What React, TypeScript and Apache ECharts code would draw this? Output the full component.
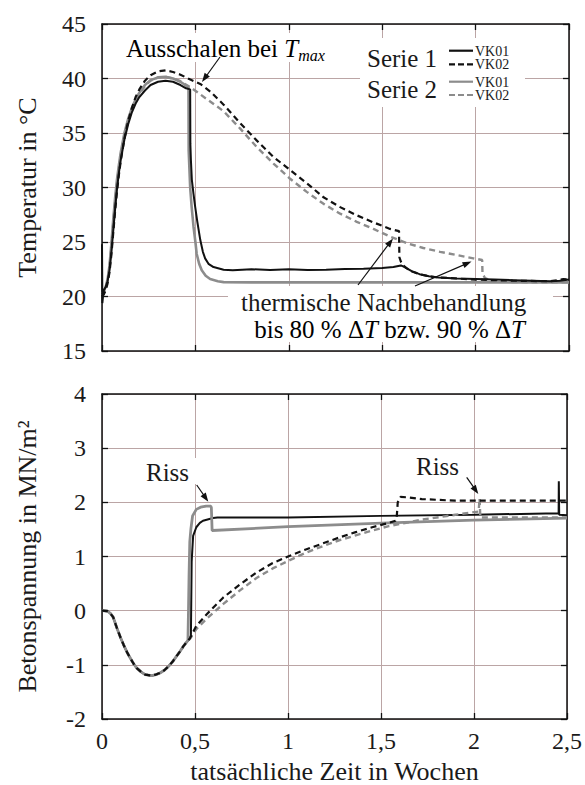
import React, { useEffect, useRef } from "react";
import * as echarts from "echarts";

// ---------- data ----------
const xTicks = [0, 0.5, 1, 1.5, 2, 2.5];
const tempTicks = [15, 20, 25, 30, 35, 40, 45];
const stressTicks = [-2, -1, 0, 1, 2, 3, 4];

// Temperature [weeks, °C]
const tempS1VK01 = [
  [0, 24.8], [0.002, 19.4], [0.008, 20.5], [0.02, 20.9], [0.03, 21.4], [0.04, 22.4], [0.05, 24.0],
  [0.06, 26.0], [0.07, 28.0], [0.08, 29.8], [0.09, 31.3], [0.1, 32.5], [0.12, 34.4], [0.14, 35.8],
  [0.16, 36.9], [0.18, 37.7], [0.2, 38.3], [0.23, 38.9], [0.26, 39.4], [0.3, 39.7], [0.34, 39.8],
  [0.38, 39.7], [0.42, 39.4], [0.45, 39.1], [0.472, 39.0], [0.473, 34.0], [0.476, 32.5], [0.481, 30.7],
  [0.49, 29.4], [0.499, 28.2], [0.51, 26.9], [0.526, 25.2], [0.54, 24.1], [0.552, 23.5], [0.57, 23.0],
  [0.597, 22.7], [0.651, 22.45], [0.7, 22.4], [0.8, 22.5], [0.9, 22.42], [1.0, 22.5], [1.1, 22.42],
  [1.2, 22.45], [1.3, 22.52], [1.4, 22.55], [1.5, 22.62], [1.56, 22.7], [1.6, 22.85], [1.62, 22.7],
  [1.66, 22.3], [1.7, 22.05], [1.75, 21.85], [1.8, 21.75], [1.9, 21.65], [2.0, 21.6], [2.1, 21.55],
  [2.2, 21.5], [2.3, 21.45], [2.4, 21.4], [2.45, 21.45], [2.5, 21.55],
];
const tempS1VK02 = [
  [0, 20.0], [0.01, 20.2], [0.02, 20.6], [0.03, 21.2], [0.04, 22.2], [0.05, 23.8], [0.06, 25.8],
  [0.07, 27.8], [0.08, 29.6], [0.09, 31.1], [0.1, 32.4], [0.12, 34.5], [0.14, 36.1], [0.16, 37.3],
  [0.18, 38.3], [0.2, 39.0], [0.23, 39.8], [0.26, 40.3], [0.3, 40.65], [0.34, 40.75], [0.38, 40.6],
  [0.42, 40.35], [0.473, 39.9], [0.526, 39.5], [0.58, 38.8], [0.651, 37.6], [0.74, 35.9], [0.829, 34.3],
  [0.918, 32.8], [1.007, 31.6], [1.096, 30.4], [1.186, 29.1], [1.275, 28.2], [1.364, 27.45], [1.453, 26.8],
  [1.542, 26.2], [1.59, 26.0], [1.592, 23.6], [1.6, 23.2], [1.612, 22.85], [1.63, 22.6], [1.66, 22.3],
  [1.7, 22.05], [1.75, 21.85], [1.8, 21.75], [1.9, 21.65], [2.0, 21.55], [2.2, 21.45], [2.4, 21.4],
  [2.44, 21.5], [2.47, 21.6], [2.5, 21.55],
];
const tempS2VK01 = [
  [0, 20.3], [0.01, 20.5], [0.02, 20.9], [0.03, 21.6], [0.04, 22.8], [0.05, 24.8], [0.06, 27.0],
  [0.07, 29.0], [0.08, 30.7], [0.09, 32.0], [0.1, 33.2], [0.12, 35.0], [0.14, 36.3], [0.16, 37.3],
  [0.18, 38.1], [0.2, 38.7], [0.23, 39.4], [0.26, 39.85], [0.3, 40.1], [0.34, 40.15], [0.38, 40.0],
  [0.42, 39.7], [0.45, 39.35], [0.463, 39.2], [0.464, 33.4], [0.472, 30.0], [0.48, 28.2], [0.49, 26.4],
  [0.5, 25.0], [0.507, 23.9], [0.52, 23.0], [0.534, 22.4], [0.555, 21.9], [0.579, 21.6], [0.62, 21.4],
  [0.651, 21.32], [0.8, 21.3], [1.0, 21.3], [1.5, 21.3], [2.0, 21.3], [2.5, 21.3],
];
const tempS2VK02 = [
  [0, 20.1], [0.01, 20.3], [0.02, 20.8], [0.03, 21.5], [0.04, 22.6], [0.05, 24.5], [0.06, 26.6],
  [0.07, 28.6], [0.08, 30.3], [0.09, 31.7], [0.1, 32.9], [0.12, 34.8], [0.14, 36.2], [0.16, 37.2],
  [0.18, 38.0], [0.2, 38.6], [0.23, 39.3], [0.26, 39.8], [0.3, 40.1], [0.34, 40.15], [0.38, 40.0],
  [0.42, 39.75], [0.473, 39.2], [0.562, 38.1], [0.651, 37.0], [0.74, 35.4], [0.829, 33.7], [0.918, 32.2],
  [1.007, 30.8], [1.096, 29.6], [1.186, 28.5], [1.275, 27.6], [1.364, 26.85], [1.453, 26.2], [1.542, 25.5],
  [1.631, 24.9], [1.72, 24.45], [1.81, 24.1], [1.899, 23.8], [1.988, 23.5], [2.035, 23.35], [2.037, 22.1],
  [2.05, 21.7], [2.08, 21.45], [2.15, 21.35], [2.3, 21.3], [2.5, 21.3],
];

// Stress [weeks, MN/m²]
const stressStart = [
  [0, 0], [0.03, -0.01], [0.045, -0.05], [0.06, -0.12], [0.08, -0.32], [0.1, -0.5], [0.116, -0.63],
  [0.135, -0.77], [0.151, -0.87], [0.17, -0.98], [0.187, -1.06], [0.21, -1.13], [0.232, -1.18],
  [0.267, -1.2], [0.29, -1.18], [0.312, -1.15], [0.335, -1.1], [0.357, -1.03], [0.38, -0.94],
  [0.401, -0.84], [0.42, -0.75], [0.437, -0.66], [0.455, -0.58],
];
const stressS1VK01 = [
  [0.473, -0.51], [0.478, -0.45], [0.48, 0.2], [0.482, 0.9], [0.486, 1.15], [0.49, 1.38], [0.507, 1.54],
  [0.526, 1.62], [0.543, 1.66], [0.597, 1.71], [0.62, 1.72], [1.0, 1.72], [1.5, 1.75], [2.0, 1.77],
  [2.455, 1.8], [2.456, 2.39], [2.458, 1.77], [2.5, 1.76],
];
const stressS1VK02 = [
  [0.473, -0.51], [0.507, -0.28], [0.562, -0.07], [0.651, 0.24], [0.74, 0.48], [0.829, 0.7], [0.918, 0.88],
  [1.007, 1.01], [1.096, 1.13], [1.186, 1.24], [1.275, 1.35], [1.364, 1.45], [1.453, 1.54], [1.542, 1.62],
  [1.578, 1.66], [1.585, 1.75], [1.59, 2.0], [1.605, 2.1], [1.65, 2.09], [1.72, 2.06], [1.9, 2.03],
  [2.5, 2.03],
];
const stressS2VK01 = [
  [0.462, -0.55], [0.465, 0.0], [0.468, 0.65], [0.472, 1.27], [0.478, 1.51], [0.487, 1.75], [0.507, 1.87],
  [0.53, 1.91], [0.56, 1.93], [0.585, 1.93], [0.588, 1.9], [0.592, 1.48], [1.0, 1.55], [1.54, 1.62],
  [2.0, 1.67], [2.5, 1.71],
];
const stressS2VK02 = [
  [0.473, -0.52], [0.507, -0.34], [0.562, -0.15], [0.651, 0.12], [0.74, 0.37], [0.829, 0.6], [0.918, 0.78],
  [1.007, 0.93], [1.096, 1.07], [1.186, 1.19], [1.275, 1.3], [1.364, 1.39], [1.453, 1.48], [1.542, 1.56],
  [1.72, 1.68], [1.899, 1.77], [2.025, 1.83], [2.03, 2.07], [2.034, 1.72], [2.5, 1.72],
];

// ---------- styles ----------
const FONT = "Liberation Serif";
const BLACK = "#111111";
const GRAY = "#8c8c8c";
const GRID_COLOR = "#bba5a5";
const DASH = [6, 4];

function arrow(x1: number, y1: number, x2: number, y2: number) {
  const dx = x2 - x1;
  const dy = y2 - y1;
  const len = Math.sqrt(dx * dx + dy * dy);
  const ux = dx / len;
  const uy = dy / len;
  const L = 9;
  const W = 3.2;
  const bx = x2 - ux * L;
  const by = y2 - uy * L;
  return [
    {
      type: "line",
      z: 60,
      shape: { x1, y1, x2: x2 - ux * 4, y2: y2 - uy * 4 },
      style: { stroke: "#111", lineWidth: 1.2 },
    },
    {
      type: "polygon",
      z: 60,
      shape: {
        points: [
          [x2, y2],
          [bx - uy * W, by + ux * W],
          [bx + uy * W, by - ux * W],
        ],
      },
      style: { fill: "#111" },
    },
  ];
}

function whiteRect(x: number, y: number, w: number, h: number) {
  return { type: "rect", z: 50, shape: { x, y, width: w, height: h }, style: { fill: "#fff" } };
}

function label(text: string, x: number, y: number, size = 25, align = "left", extra: any = {}) {
  return {
    type: "text",
    z: 61,
    x,
    y,
    style: {
      text,
      fill: "#1a1a1a",
      fontSize: size,
      fontFamily: FONT,
      align,
      verticalAlign: "middle",
      ...extra,
    },
  };
}

function legendLine(x1: number, x2: number, y: number, color: string, dashed: boolean) {
  return {
    type: "line",
    z: 61,
    shape: { x1, y1: y, x2, y2: y },
    style: { stroke: color, lineWidth: 2.2, lineDash: dashed ? [6, 3] : null },
  };
}

const richMath = {
  n: { fontSize: 25, fontFamily: FONT, color: "#1a1a1a", lineHeight: 30 },
  i: { fontSize: 25, fontFamily: FONT, fontStyle: "italic", color: "#1a1a1a", lineHeight: 30 },
  s: { fontSize: 16, fontFamily: FONT, fontStyle: "italic", color: "#1a1a1a", lineHeight: 16, verticalAlign: "bottom" },
};

function makeAxisX(gridIndex: number, position: string, labels: boolean, split: boolean, name?: string) {
  return {
    type: "value",
    gridIndex,
    position,
    min: 0,
    max: 2.5,
    interval: 0.5,
    name: name || "",
    nameLocation: "middle",
    nameGap: 39,
    nameTextStyle: { fontFamily: FONT, fontSize: 26, color: "#1a1a1a" },
    axisLine: { show: true, onZero: false, lineStyle: { color: "#111", width: 1.5 } },
    axisTick: { show: true, inside: true, length: 6, lineStyle: { color: "#111", width: 1.3 } },
    axisLabel: {
      show: labels,
      margin: 10,
      fontFamily: FONT,
      fontSize: 24,
      color: "#1a1a1a",
      formatter: (v: number) => String(v).replace(".", ","),
    },
    splitLine: { show: split, lineStyle: { color: GRID_COLOR, width: 1 } },
  };
}

function makeAxisY(
  gridIndex: number,
  position: string,
  min: number,
  max: number,
  interval: number,
  labels: boolean,
  split: boolean,
  name?: string
) {
  return {
    type: "value",
    gridIndex,
    position,
    min,
    max,
    interval,
    name: name || "",
    nameLocation: "middle",
    nameRotate: 90,
    nameGap: 62,
    nameTextStyle: { fontFamily: FONT, fontSize: 26, color: "#1a1a1a" },
    axisLine: { show: true, onZero: false, lineStyle: { color: "#111", width: 1.5 } },
    axisTick: { show: true, inside: true, length: 6, lineStyle: { color: "#111", width: 1.3 } },
    axisLabel: { show: labels, margin: 16, fontFamily: FONT, fontSize: 24, color: "#1a1a1a" },
    splitLine: { show: split, lineStyle: { color: GRID_COLOR, width: 1 } },
  };
}

function lineSeries(x: number, y: number, data: number[][], color: string, width: number, dashed: boolean, z: number) {
  return {
    type: "line",
    xAxisIndex: x,
    yAxisIndex: y,
    data,
    symbol: "none",
    showSymbol: false,
    smooth: false,
    z,
    lineStyle: { color, width, type: dashed ? DASH : "solid" },
  };
}

export default function App() {
  const ref = useRef<HTMLDivElement>(null);

  useEffect(() => {
    if (!ref.current) return;
    const chart = echarts.init(ref.current, undefined, { renderer: "svg" });

    const graphics: any[] = [
      // white boxes behind labels (interrupt grid lines)
      whiteRect(124, 33, 212, 29),
      whiteRect(360, 38, 165, 69),
      whiteRect(228, 286, 325, 56),
      whiteRect(142, 458, 56, 26),
      whiteRect(411, 452, 52, 28),
      // Ausschalen bei T_max
      {
        type: "text",
        z: 61,
        x: 126,
        y: 48,
        style: {
          text: "{n|Ausschalen bei }{i|T}{s|max}",
          align: "left",
          verticalAlign: "middle",
          rich: richMath,
        },
      },
      ...arrow(220, 57, 202, 82),
      // legend
      label("Serie 1", 367, 58),
      label("Serie 2", 367, 89),
      legendLine(449, 473, 50.7, BLACK, false),
      legendLine(449, 473, 64.3, BLACK, true),
      legendLine(449, 473, 81.7, GRAY, false),
      legendLine(449, 473, 95, GRAY, true),
      label("VK01", 475, 51, 14),
      label("VK02", 475, 64.5, 14),
      label("VK01", 475, 82, 14),
      label("VK02", 475, 95.5, 14),
      // thermische Nachbehandlung
      label("thermische Nachbehandlung", 241, 302),
      {
        type: "text",
        z: 61,
        x: 525,
        y: 329,
        style: {
          text: "{n|bis 80 % Δ}{i|T}{n| bzw. 90 % Δ}{i|T}",
          align: "right",
          verticalAlign: "middle",
          rich: richMath,
        },
      },
      ...arrow(358, 285, 393, 238.5),
      ...arrow(415, 286, 471.5, 261.5),
      // Riss labels
      label("Riss", 146, 472),
      ...arrow(196.7, 485, 208.3, 501.7),
      label("Riss", 416, 466),
      ...arrow(466.7, 477.3, 478.3, 494),
    ];

    chart.setOption({
      animation: false,
      backgroundColor: "#ffffff",
      textStyle: { fontFamily: FONT },
      grid: [
        { left: 102, top: 24, width: 467, height: 327 },
        { left: 102, top: 394, width: 467, height: 328 },
      ],
      xAxis: [
        makeAxisX(0, "bottom", false, true),
        makeAxisX(0, "top", false, false),
        makeAxisX(1, "bottom", true, true, "tatsächliche Zeit in Wochen"),
        makeAxisX(1, "top", false, false),
      ],
      yAxis: [
        makeAxisY(0, "left", tempTicks[0], tempTicks[tempTicks.length - 1], 5, true, true, "Temperatur in °C"),
        makeAxisY(0, "right", tempTicks[0], tempTicks[tempTicks.length - 1], 5, false, false),
        makeAxisY(1, "left", stressTicks[0], stressTicks[stressTicks.length - 1], 1, true, true, "Betonspannung in MN/m²"),
        makeAxisY(1, "right", stressTicks[0], stressTicks[stressTicks.length - 1], 1, false, false),
      ],
      series: [
        lineSeries(0, 0, tempS2VK01, GRAY, 2.6, false, 2),
        lineSeries(0, 0, tempS2VK02, GRAY, 2.4, true, 3),
        lineSeries(0, 0, tempS1VK02, BLACK, 2.2, true, 4),
        lineSeries(0, 0, tempS1VK01, BLACK, 2.0, false, 5),
        lineSeries(2, 2, [...stressStart, ...stressS1VK01], BLACK, 2.0, false, 2),
        lineSeries(2, 2, [...stressStart, ...stressS2VK01], GRAY, 2.8, false, 3),
        lineSeries(2, 2, [...stressStart, ...stressS2VK02], GRAY, 2.4, true, 4),
        lineSeries(2, 2, [...stressStart, ...stressS1VK02], BLACK, 2.2, true, 5),
      ],
      graphic: graphics,
    });

    return () => chart.dispose();
  }, []);

  void xTicks;

  return (
    <div
      ref={ref}
      style={{ position: "absolute", left: 0, top: 0, width: 585, height: 785, background: "#fff" }}
    />
  );
}
